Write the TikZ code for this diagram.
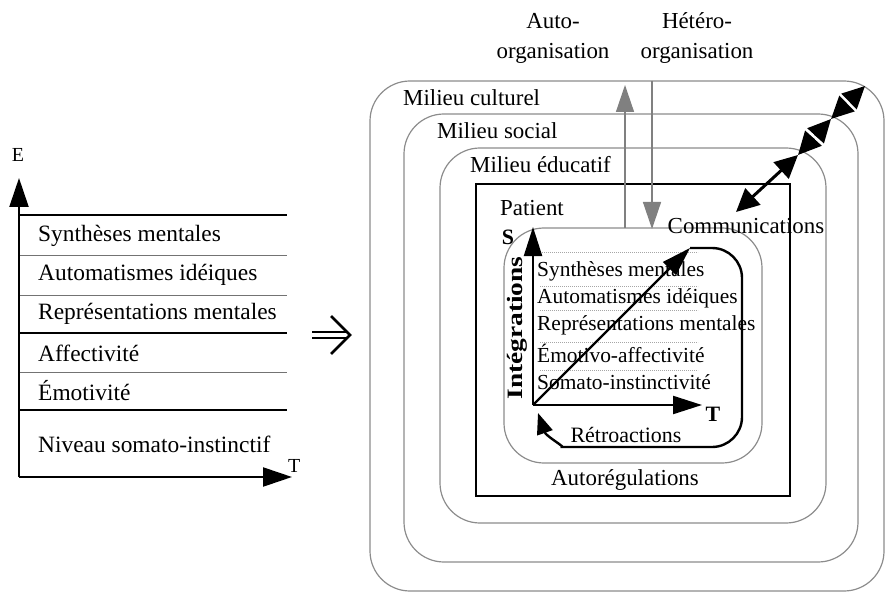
\documentclass[tikz,border=0pt]{standalone}
\usepackage{fontspec}
\setmainfont{Liberation Serif}
\usetikzlibrary{arrows.meta,calc}

\tikzset{
  txt/.style={inner sep=0pt, font=\fontsize{23}{26}\selectfont},
  lefttxt/.style={txt, anchor=west, font=\fontsize{23.5}{26}\selectfont},
  innertxt/.style={inner sep=0pt, anchor=west, font=\fontsize{21.5}{24}\selectfont},
  boldtxt/.style={inner sep=0pt, font=\fontsize{22}{24}\selectfont\bfseries},
  milieu/.style={draw=black!45, line width=1.2bp, rounded corners=40bp,
                 inner sep=0pt, outer sep=0pt},
  patientbox/.style={draw=black, line width=2bp, inner sep=0pt, outer sep=0pt},
  levelsolid/.style={draw=black, line width=2bp},
  levelthin/.style={draw=black!55, line width=1bp},
  leveldot/.style={draw=black!35, line width=0.8bp, dash pattern=on 1.2bp off 0.8bp},
  axis/.style={draw=black, line width=2.2bp, -{Triangle[length=29bp,width=19bp]}},
  inneraxis/.style={draw=black, line width=2.2bp, -{Triangle[length=29bp,width=18bp]}},
  grayarrow/.style={draw=black!50, line width=1.4bp, -{Triangle[length=27bp,width=18bp]}},
  linkarrow/.style={draw=black, line width=3bp,
     {Triangle[length=23bp,width=22bp]}-{Triangle[length=23bp,width=22bp]}},
  gapmark/.style={draw=white, line width=2.5bp},
  feedback/.style={draw=black, line width=2.4bp, -{Triangle[length=21bp,width=16bp]}},
}

\begin{document}
\begin{tikzpicture}[x=1bp, y=-1bp]
\useasboundingbox (0,0) rectangle (887,596);

% ---------- left panel: levels along the time axis ----------
\coordinate (lo) at (19,477);
\coordinate (ltop) at (19,178);
\coordinate (lright) at (292,477);
\foreach \y/\s in {215/levelsolid, 255/levelthin, 295/levelthin,
                   333/levelsolid, 372/levelthin, 410/levelsolid}
  \draw[\s] (19,\y) -- (287,\y);
\draw[axis] (lo) -- (ltop);
\draw[axis] (lo) -- (lright);
\node[txt, font=\fontsize{20}{22}\selectfont] (E) at (18,155) {E};
\node[txt, anchor=west, font=\fontsize{20}{22}\selectfont] (Tl) at (288,466) {T};

\node[lefttxt] (l1) at (38,236) {Synthèses mentales};
\node[lefttxt] (l2) at (38,275) {Automatismes idéiques};
\node[lefttxt] (l3) at (38,314) {Représentations mentales};
\node[lefttxt] (l4) at (38,353) {Affectivité};
\node[lefttxt] (l5) at (38,391) {Émotivité};
\node[lefttxt] (l6) at (38,444) {Niveau somato-instinctif};

% ---------- implication arrow ----------
\coordinate (imp1) at (312,335);
\coordinate (imp2) at (347,335);
\draw[line width=1.8bp, double, double distance=3.6bp] (imp1) -- (imp2);
\draw[line width=2.6bp] ([shift={(-16bp,19bp)}]imp2) -- ([xshift=3bp]imp2) -- ([shift={(-16bp,-19bp)}]imp2);

% ---------- nested environments ----------
\node[milieu, minimum width=514bp, minimum height=510bp] (cult) at (627,336) {};
\node[milieu, minimum width=454bp, minimum height=448bp] (soc)  at (631,338) {};
\node[milieu, minimum width=386bp, minimum height=375bp] (edu)  at (633,335.5) {};
\node[patientbox, minimum width=314bp, minimum height=312bp] (pat) at (633,340) {};
\node[milieu, minimum width=258bp, minimum height=235bp] (reg) at (633,345.5) {};

\node[txt, anchor=west] (mc) at (403,98) {Milieu culturel};
\node[txt, anchor=west] (ms) at (437,131) {Milieu social};
\node[txt, anchor=west] (me) at (470,165) {Milieu éducatif};

\node[txt, align=center, font=\fontsize{23}{30}\selectfont] (auto) at (553,38) {Auto-\\organisation};
\node[txt, align=center, font=\fontsize{23}{30}\selectfont] (hetero) at (697,38) {Hétéro-\\organisation};

% organisation arrows through the environments
\coordinate (ax) at (625,0);
\coordinate (hx) at (652,0);
\draw[grayarrow] (reg.north -| ax) -- ([yshift=-4bp]cult.north -| ax);
\draw[grayarrow] (cult.north -| hx) -- ([yshift=-1bp]reg.north -| hx);

% communications crossing each boundary
\coordinate (k1) at (865,86);
\coordinate (k2) at (831,119);
\coordinate (k3) at (798,155);
\coordinate (k4) at (736,212);
\draw[linkarrow] (k1) -- (k2);
\draw[linkarrow] (k2) -- (k3);
\draw[linkarrow] (k3) -- (k4);
\coordinate (m1) at ($(k1)!0.5!(k2)$);
\coordinate (m2) at ($(k2)!0.5!(k3)$);
\draw[gapmark] ($(m1)!13bp!90:(k2)$) -- ($(m1)!13bp!-90:(k2)$);
\draw[gapmark] ($(m2)!13bp!90:(k3)$) -- ($(m2)!13bp!-90:(k3)$);

\node[txt] (pt) at (532,208) {Patient};
\node[txt, font=\fontsize{23}{25}\selectfont] (comm) at (746,226) {Communications};
\node[txt] (autoreg) at (625,480) {Autorégulations};

% ---------- patient's levels ----------
\foreach \y in {252, 286, 310, 342, 370}
  \draw[leveldot] (540,\y) -- (698,\y);
\node[innertxt] (i1) at (537,271) {Synthèses mentales};
\node[innertxt] (i2) at (537,298) {Automatismes idéiques};
\node[innertxt] (i3) at (537,325) {Représentations mentales};
\node[innertxt] (i4) at (537,353) {Émotivo-affectivité};
\node[innertxt] (i5) at (537,382) {Somato-instinctivité};

\coordinate (o) at (533,405);
\coordinate (sy) at (533,227);
\coordinate (tx) at (702,405);
\coordinate (dg) at (690,248);
\draw[inneraxis] (o) -- (sy);
\draw[inneraxis] (o) -- (tx);
\draw[inneraxis] (o) -- (dg);
\node[boldtxt] (S) at (508,237) {S};
\node[boldtxt] (T) at (713,414) {T};
\node[boldtxt, rotate=90, xscale=1.25] (integ) at (517,328) {Intégrations};

% feedback loop
\draw[feedback, rounded corners=30bp] (dg) -- (742,248) -- (742,447) -- (592,447)
  [sharp corners] .. controls (565,447) and (546,436) .. (538,413);
\node[txt, font=\fontsize{22}{24}\selectfont] (retro) at (626,435) {Rétroactions};
\end{tikzpicture}
\end{document}
